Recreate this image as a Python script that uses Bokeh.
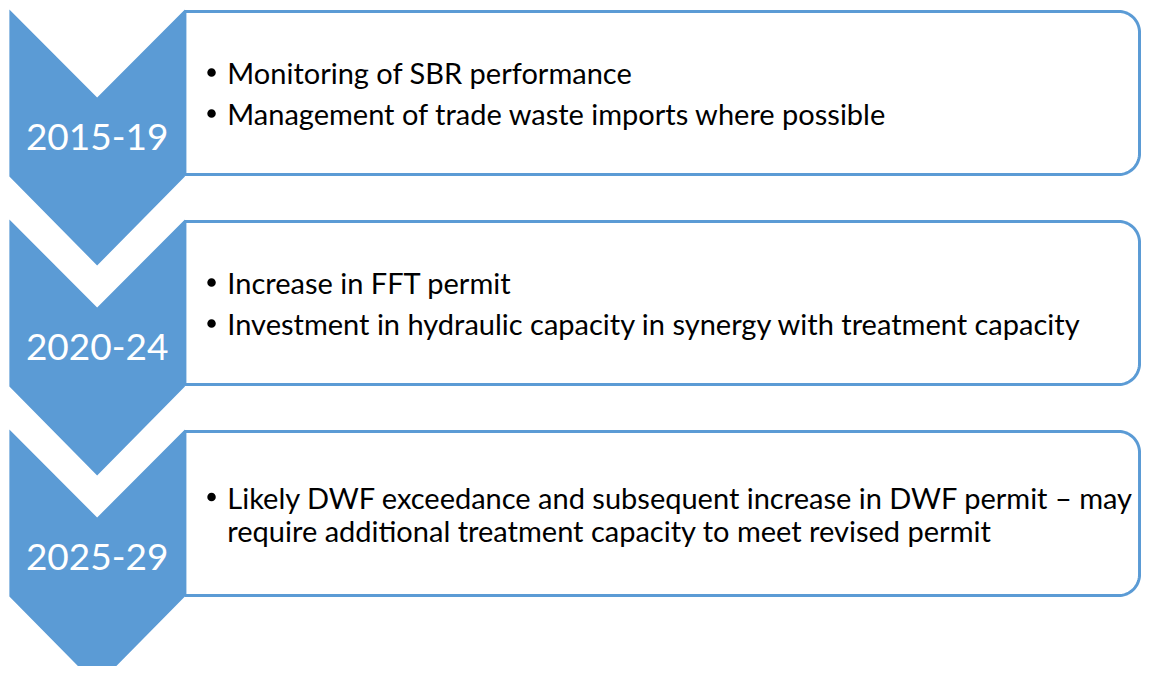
import numpy as np
from bokeh.plotting import figure
from bokeh.models import Range1d, ColumnDataSource
from bokeh.core.properties import value
from bokeh.embed import file_html
from bokeh.resources import INLINE

# ---- data ----
periods = ["2015-19", "2020-24", "2025-29"]
item_texts = [
    "Monitoring of SBR performance",
    "Management of trade waste imports where possible",
    "Increase in FFT permit",
    "Investment in hydraulic capacity in synergy with treatment capacity",
    "Likely DWF exceedance and subsequent increase in DWF permit \u2013 may",
    "require additional treatment capacity to meet revised permit",
]
item_period = [0, 0, 1, 1, 2, 2]
item_bullet = [True, True, True, True, True, False]

# ---- style / layout ----
BLUE = "#5B9BD5"
FONT = "Lato"
W, H = 1141, 666

p = figure(width=W, height=H, output_backend="svg", toolbar_location=None,
           x_range=Range1d(0, 1157), y_range=Range1d(666, 0),
           min_border=0)
p.axis.visible = False
p.grid.visible = False
p.outline_line_color = None
p.background_fill_color = "white"

step = 210
chev_top0 = 9
cx0, cx1 = 9, 187
ccx = (cx0 + cx1) / 2

# rounded boxes
box_xs, box_ys = [], []
box_centers = []
for i in range(len(periods)):
    t = 11 + step * i
    b = 174 + step * i + (1 if i == 2 else 0)
    x0, x1, r = 187, 1155, 21
    th1 = np.linspace(-np.pi / 2, 0, 20)
    th2 = np.linspace(0, np.pi / 2, 20)
    xs = [x0] + list(x1 - r + r * np.cos(th1)) + list(x1 - r + r * np.cos(th2)) + [x0]
    ys = [t] + list(t + r + r * np.sin(th1)) + list(b - r + r * np.sin(th2)) + [b]
    box_xs.append(xs)
    box_ys.append(ys)
    box_centers.append((t + b) / 2)
p.patches(box_xs, box_ys, fill_color="white", line_color=BLUE, line_width=3)

# chevrons
ch_xs, ch_ys, lab_y = [], [], []
for i in range(len(periods)):
    t = chev_top0 + step * i
    ch_xs.append([cx0, ccx, cx1, cx1, ccx, cx0])
    ch_ys.append([t, t + 88, t, t + 167, t + 256, t + 167])
    lab_y.append(t + (88 + 167) / 2)
p.patches(ch_xs, ch_ys, fill_color=BLUE, line_color=None)

p.text(x=[ccx] * len(periods), y=lab_y, text=periods,
       text_color="white", text_font=value(FONT), text_font_size="37px",
       text_align="center", text_baseline="middle")

# bullet lines
PARA = 41
WRAP = 33
line_y = []
for i in range(len(periods)):
    idx = [k for k in range(len(item_texts)) if item_period[k] == i]
    ys = [0.0]
    for k in idx[1:]:
        ys.append(ys[-1] + (PARA if item_bullet[k] else WRAP))
    off = (ys[-1]) / 2
    for y in ys:
        line_y.append(box_centers[i] - off + y)

src = ColumnDataSource(dict(x=[230] * len(item_texts), y=line_y, text=item_texts))
p.text(x="x", y="y", text="text", source=src, text_color="black",
       text_font=value(FONT), text_font_size="29px",
       text_align="left", text_baseline="middle")

bx = [214] * sum(item_bullet)
by = [line_y[k] for k in range(len(item_texts)) if item_bullet[k]]
p.scatter(x=bx, y=by, size=8.5, marker="circle", fill_color="black", line_color=None)

open("out.html", "w").write(file_html(p, INLINE))
